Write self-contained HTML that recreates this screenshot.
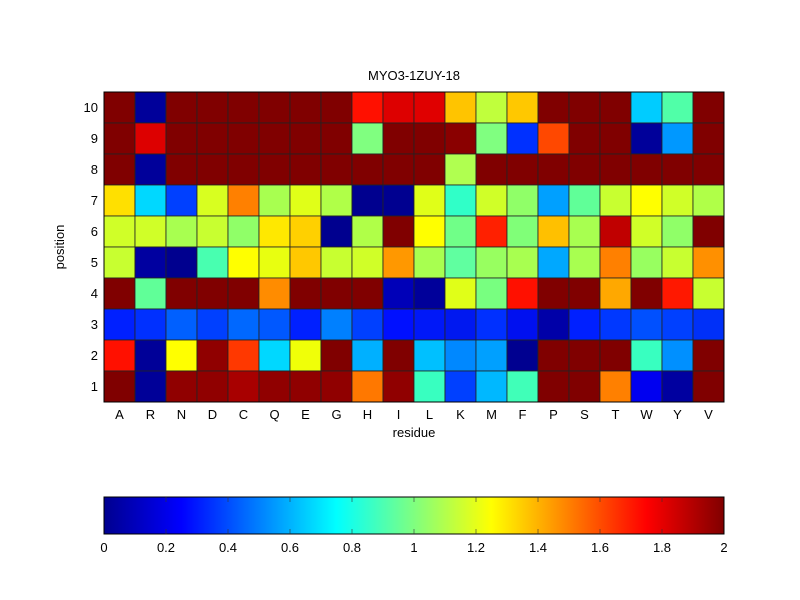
<!DOCTYPE html>
<html><head><meta charset="utf-8"><style>
body{margin:0;background:#fff;width:800px;height:600px;overflow:hidden}
svg{display:block}
text{font-family:"Liberation Sans",sans-serif;font-size:13px;fill:#000}
</style></head><body>
<svg id="s" width="800" height="600" xmlns="http://www.w3.org/2000/svg">
<defs><linearGradient id="jet" x1="0" x2="1" y1="0" y2="0">
<stop offset="0" stop-color="#00008f"/><stop offset="0.125" stop-color="#0000ff"/>
<stop offset="0.375" stop-color="#00ffff"/><stop offset="0.625" stop-color="#ffff00"/>
<stop offset="0.875" stop-color="#ff0000"/><stop offset="1" stop-color="#800000"/></linearGradient></defs>
<g id="cells"></g>
<rect x="104" y="92" width="620" height="310" fill="none" stroke="#000" stroke-width="1"/>
<text x="414" y="80" text-anchor="middle">MYO3-1ZUY-18</text>
<g text-anchor="end">
<text x="98" y="112">10</text><text x="98" y="143">9</text><text x="98" y="174">8</text><text x="98" y="205">7</text><text x="98" y="236">6</text>
<text x="98" y="267">5</text><text x="98" y="298">4</text><text x="98" y="329">3</text><text x="98" y="360">2</text><text x="98" y="391">1</text>
</g>
<g text-anchor="middle">
<text x="119.5" y="419">A</text><text x="150.5" y="419">R</text><text x="181.5" y="419">N</text><text x="212.5" y="419">D</text><text x="243.5" y="419">C</text>
<text x="274.5" y="419">Q</text><text x="305.5" y="419">E</text><text x="336.5" y="419">G</text><text x="367.5" y="419">H</text><text x="398.5" y="419">I</text>
<text x="429.5" y="419">L</text><text x="460.5" y="419">K</text><text x="491.5" y="419">M</text><text x="522.5" y="419">F</text><text x="553.5" y="419">P</text>
<text x="584.5" y="419">S</text><text x="615.5" y="419">T</text><text x="646.5" y="419">W</text><text x="677.5" y="419">Y</text><text x="708.5" y="419">V</text>
<text x="414" y="437">residue</text>
<text transform="translate(64,247) rotate(-90)">position</text>
</g>
<rect x="104" y="497" width="620" height="37" fill="url(#jet)" stroke="#000" stroke-width="1"/>
<g stroke="#333" stroke-width="1" opacity="0.6">
<line x1="166" y1="497" x2="166" y2="502"/><line x1="228" y1="497" x2="228" y2="502"/><line x1="290" y1="497" x2="290" y2="502"/><line x1="352" y1="497" x2="352" y2="502"/>
<line x1="414" y1="497" x2="414" y2="502"/><line x1="476" y1="497" x2="476" y2="502"/><line x1="538" y1="497" x2="538" y2="502"/><line x1="600" y1="497" x2="600" y2="502"/><line x1="662" y1="497" x2="662" y2="502"/>
<line x1="166" y1="529" x2="166" y2="534"/><line x1="228" y1="529" x2="228" y2="534"/><line x1="290" y1="529" x2="290" y2="534"/><line x1="352" y1="529" x2="352" y2="534"/>
<line x1="414" y1="529" x2="414" y2="534"/><line x1="476" y1="529" x2="476" y2="534"/><line x1="538" y1="529" x2="538" y2="534"/><line x1="600" y1="529" x2="600" y2="534"/><line x1="662" y1="529" x2="662" y2="534"/>
</g>
<g text-anchor="middle">
<text x="104" y="552">0</text><text x="166" y="552">0.2</text><text x="228" y="552">0.4</text><text x="290" y="552">0.6</text><text x="352" y="552">0.8</text>
<text x="414" y="552">1</text><text x="476" y="552">1.2</text><text x="538" y="552">1.4</text><text x="600" y="552">1.6</text><text x="662" y="552">1.8</text><text x="724" y="552">2</text>
</g>
</svg>
<script>
var D='#800000';
var rows=[
[D,'#00009a',D,D,D,D,D,D,'#ff1000','#dd0000','#e00000','#ffc400','#c0ff3c','#ffc800',D,D,D,'#00ccff','#50ffa8',D],
[D,'#dd0000',D,D,D,D,D,D,'#80ff80',D,D,'#8a0000','#80ff80','#0030ff','#ff4800',D,D,'#00009a','#0098ff',D],
[D,'#00009a',D,D,D,D,D,D,D,D,D,'#b0ff50',D,D,D,D,D,D,D,D],
['#ffe000','#00d8ff','#0040ff','#d8ff20','#ff8000','#a8ff50','#e0ff18','#b0ff48','#00008f','#000090','#e0ff18','#30ffc8','#d0ff28','#90ff68','#00a0ff','#60ff98','#c8ff30','#ffff00','#d0ff28','#b0ff48'],
['#d0ff28','#d0ff28','#a8ff50','#c8ff30','#90ff68','#ffe800','#ffd000','#00008f','#b0ff48',D,'#ffff00','#70ff88','#ff2000','#80ff78','#ffc000','#a8ff50','#c00000','#d0ff28','#90ff68',D],
['#c8ff30','#0000a0','#00008f','#48ffb0','#ffff00','#e8ff10','#ffc800','#c8ff30','#d0ff28','#ff9800','#a8ff50','#60ffa0','#98ff60','#a8ff50','#00a8ff','#a8ff50','#ff8000','#98ff60','#c8ff30','#ff9000'],
[D,'#60ff98',D,D,D,'#ff8c00',D,D,D,'#0000b8','#00009a','#e0ff18','#78ff80','#ff1000',D,D,'#ffa800',D,'#ff1800','#c8ff30'],
['#0020ff','#0030ff','#0060ff','#0040ff','#0068ff','#0058ff','#0020ff','#0080ff','#0040ff','#0010ff','#0018f8','#0018f0','#0030ff','#0010f0','#0000a8','#0020ff','#0038ff','#0050ff','#0040ff','#0030f8'],
['#ff1000','#000098','#ffff00','#900000','#ff3800','#00d8ff','#f0ff08',D,'#00b0ff',D,'#00c0ff','#0088ff','#00a0ff','#000090',D,D,D,'#38ffc0','#0090ff',D],
[D,'#000098','#900000','#900000','#a80000','#900000','#900000','#900000','#ff7800','#900000','#38ffc0','#0040ff','#00b8ff','#40ffb8',D,D,'#ff8000','#0000f0','#0000a0',D]];
var g=document.getElementById('cells'),h='';
for(var r=0;r<10;r++)for(var c=0;c<20;c++)h+='<rect x="'+(104+31*c)+'" y="'+(92+31*r)+'" width="31" height="31" fill="'+rows[r][c]+'" stroke="#222" stroke-width="0.8"/>';
g.innerHTML=h;
</script>
</body></html>
